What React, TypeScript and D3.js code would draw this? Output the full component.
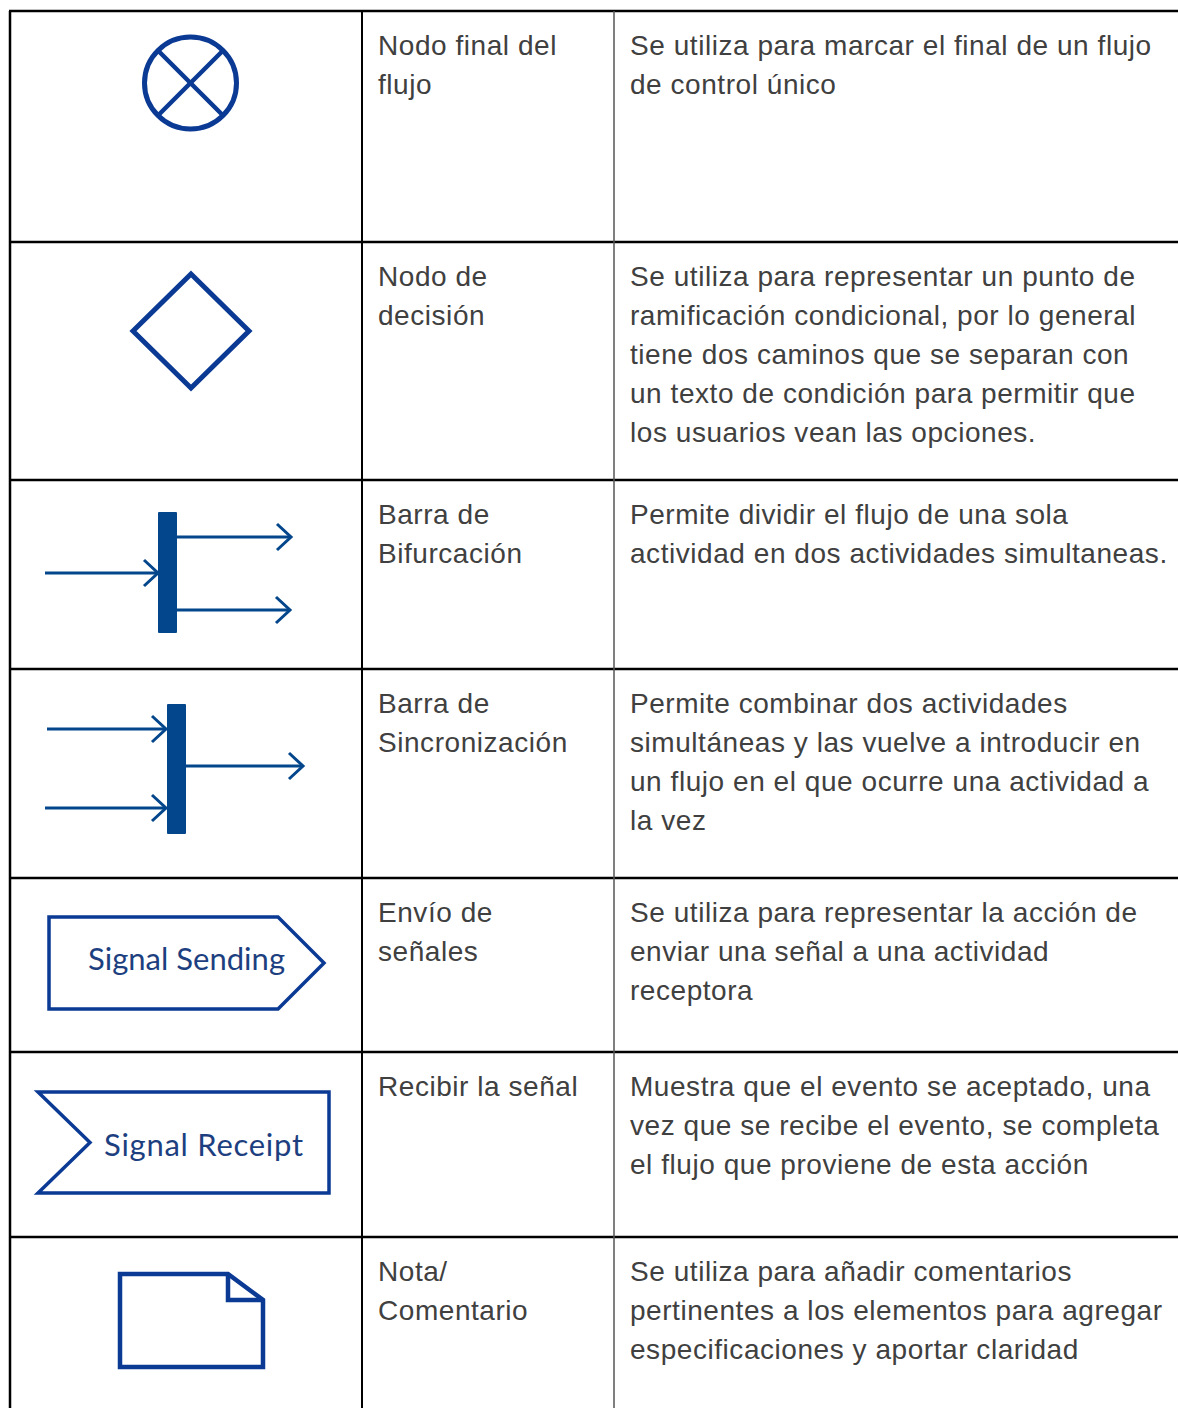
import { useEffect, useRef } from 'react';
import * as d3 from 'd3';

// Row borders (y of each horizontal rule) and column dividers
const rowEdges = [11, 242, 480, 669, 878, 1052, 1237, 1420];
const colEdges = [10, 362, 614];

const symbolKinds = ['flowFinal', 'decision', 'fork', 'join', 'sendSignal', 'receiveSignal', 'note'];

const names: string[][] = [
  ['Nodo final del', 'flujo'],
  ['Nodo de', 'decisión'],
  ['Barra de', 'Bifurcación'],
  ['Barra de', 'Sincronización'],
  ['Envío de', 'señales'],
  ['Recibir la señal'],
  ['Nota/', 'Comentario'],
];

const descriptions: string[][] = [
  ['Se utiliza para marcar el final de un flujo', 'de control único'],
  [
    'Se utiliza para representar un punto de',
    'ramificación condicional, por lo general',
    'tiene dos caminos que se separan con',
    'un texto de condición para permitir que',
    'los usuarios vean las opciones.',
  ],
  ['Permite dividir el flujo de una sola', 'actividad en dos actividades simultaneas.'],
  [
    'Permite combinar dos actividades',
    'simultáneas y las vuelve a introducir en',
    'un flujo en el que ocurre una actividad a',
    'la vez',
  ],
  ['Se utiliza para representar la acción de', 'enviar una señal a una actividad', 'receptora'],
  [
    'Muestra que el evento se aceptado, una',
    'vez que se recibe el evento, se completa',
    'el flujo que proviene de esta acción',
  ],
  [
    'Se utiliza para añadir comentarios',
    'pertinentes a los elementos para agregar',
    'especificaciones y aportar claridad',
  ],
];

const WIDTH = 1178;
const HEIGHT = 1408;
const OUTLINE = '#0b3a94';
const BAR = '#03468c';
const TEXT = '#404040';

export default function App() {
  const svgRef = useRef<SVGSVGElement>(null);

  useEffect(() => {
    if (!svgRef.current) return;
    const svg = d3.select(svgRef.current);
    svg.selectAll('*').remove();

    svg.append('rect').attr('width', WIDTH).attr('height', HEIGHT).attr('fill', '#fff');

    const line = d3.line<[number, number]>();

    // arrow with open chevron head
    const arrow = (g: any, x1: number, x2: number, y: number) => {
      g.append('path')
        .attr('d', line([[x1, y], [x2 - 1, y]]))
        .attr('stroke', BAR)
        .attr('stroke-width', 3)
        .attr('fill', 'none');
      g.append('path')
        .attr('d', line([[x2 - 14, y - 13], [x2, y], [x2 - 14, y + 13]]))
        .attr('stroke', BAR)
        .attr('stroke-width', 3)
        .attr('fill', 'none');
    };

    symbolKinds.forEach((kind, i) => {
      const top = rowEdges[i];
      const g = svg.append('g');

      if (kind === 'flowFinal') {
        const cx = 190.5, cy = top + 72, r = 46;
        g.append('circle').attr('cx', cx).attr('cy', cy).attr('r', r)
          .attr('fill', 'none').attr('stroke', OUTLINE).attr('stroke-width', 5);
        const d = r * Math.SQRT1_2;
        g.append('path').attr('d', line([[cx - d, cy - d], [cx + d, cy + d]]))
          .attr('stroke', OUTLINE).attr('stroke-width', 4.5);
        g.append('path').attr('d', line([[cx + d, cy - d], [cx - d, cy + d]]))
          .attr('stroke', OUTLINE).attr('stroke-width', 4.5);
      } else if (kind === 'decision') {
        const cx = 191, cy = top + 89, hw = 58, hh = 57;
        g.append('path')
          .attr('d', line([[cx, cy - hh], [cx + hw, cy], [cx, cy + hh], [cx - hw, cy]]) + 'Z')
          .attr('fill', 'none').attr('stroke', OUTLINE).attr('stroke-width', 5)
          .attr('stroke-linejoin', 'miter');
      } else if (kind === 'fork') {
        g.append('rect').attr('x', 158).attr('y', top + 32).attr('width', 19).attr('height', 121)
          .attr('rx', 1).attr('fill', BAR);
        arrow(g, 45, 158, top + 93);
        arrow(g, 177, 291, top + 57);
        arrow(g, 177, 290, top + 130);
      } else if (kind === 'join') {
        g.append('rect').attr('x', 167).attr('y', top + 35).attr('width', 19).attr('height', 130)
          .attr('rx', 1).attr('fill', BAR);
        arrow(g, 47, 166, top + 60);
        arrow(g, 45, 166, top + 139);
        arrow(g, 186, 303, top + 97);
      } else if (kind === 'sendSignal') {
        const y0 = top + 39, y1 = top + 131;
        g.append('path')
          .attr('d', line([[49, y0], [278, y0], [324, (y0 + y1) / 2], [278, y1], [49, y1]]) + 'Z')
          .attr('fill', 'none').attr('stroke', OUTLINE).attr('stroke-width', 3.5);
        g.append('text').attr('x', 88).attr('y', top + 92)
          .attr('font-family', 'Lato').attr('font-size', 31).attr('fill', '#1d3f80')
          .attr('textLength', 197).attr('lengthAdjust', 'spacing')
          .text('Signal Sending');
      } else if (kind === 'receiveSignal') {
        const y0 = top + 40, y1 = top + 141;
        g.append('path')
          .attr('d', line([[38, y0], [329, y0], [329, y1], [38, y1], [90, (y0 + y1) / 2]]) + 'Z')
          .attr('fill', 'none').attr('stroke', OUTLINE).attr('stroke-width', 3.5);
        g.append('text').attr('x', 104).attr('y', top + 104)
          .attr('font-family', 'Lato').attr('font-size', 31).attr('fill', '#1d3f80')
          .attr('textLength', 199).attr('lengthAdjust', 'spacing')
          .text('Signal Receipt');
      } else if (kind === 'note') {
        const x0 = 120, x1 = 263, y0 = top + 37, y1 = top + 130, fx = 228, fy = top + 63;
        g.append('path')
          .attr('d', line([[x0, y0], [fx, y0], [x1, fy], [x1, y1], [x0, y1]]) + 'Z')
          .attr('fill', 'none').attr('stroke', OUTLINE).attr('stroke-width', 4.5);
        g.append('path')
          .attr('d', line([[fx, y0], [fx, fy], [x1, fy]]))
          .attr('fill', 'none').attr('stroke', OUTLINE).attr('stroke-width', 4.5);
      }

      // text columns
      const addLines = (lines: string[], x: number) => {
        lines.forEach((t, k) => {
          svg.append('text')
            .attr('x', x)
            .attr('y', top + 44 + k * 39)
            .attr('font-family', '"Liberation Sans", Arial, sans-serif')
            .attr('font-size', 28)
            .attr('letter-spacing', 0.55)
            .attr('fill', TEXT)
            .text(t);
        });
      };
      addLines(names[i], colEdges[1] + 16);
      addLines(descriptions[i], colEdges[2] + 16);
    });

    // grid lines
    rowEdges.slice(0, -1).forEach(y => {
      svg.append('line').attr('x1', colEdges[0] - 1).attr('x2', WIDTH).attr('y1', y).attr('y2', y)
        .attr('stroke', '#000').attr('stroke-width', 2.5);
    });
    svg.append('line').attr('x1', colEdges[0]).attr('x2', colEdges[0])
      .attr('y1', rowEdges[0]).attr('y2', HEIGHT).attr('stroke', '#000').attr('stroke-width', 2.5);
    svg.append('line').attr('x1', colEdges[1]).attr('x2', colEdges[1])
      .attr('y1', rowEdges[0]).attr('y2', HEIGHT).attr('stroke', '#000').attr('stroke-width', 2);
    svg.append('line').attr('x1', colEdges[2]).attr('x2', colEdges[2])
      .attr('y1', rowEdges[0]).attr('y2', HEIGHT).attr('stroke', '#555').attr('stroke-width', 1.5);
  }, []);

  return (
    <svg
      ref={svgRef}
      width={WIDTH}
      height={HEIGHT}
      style={{ position: 'absolute', left: 0, top: 0, display: 'block' }}
    />
  );
}
